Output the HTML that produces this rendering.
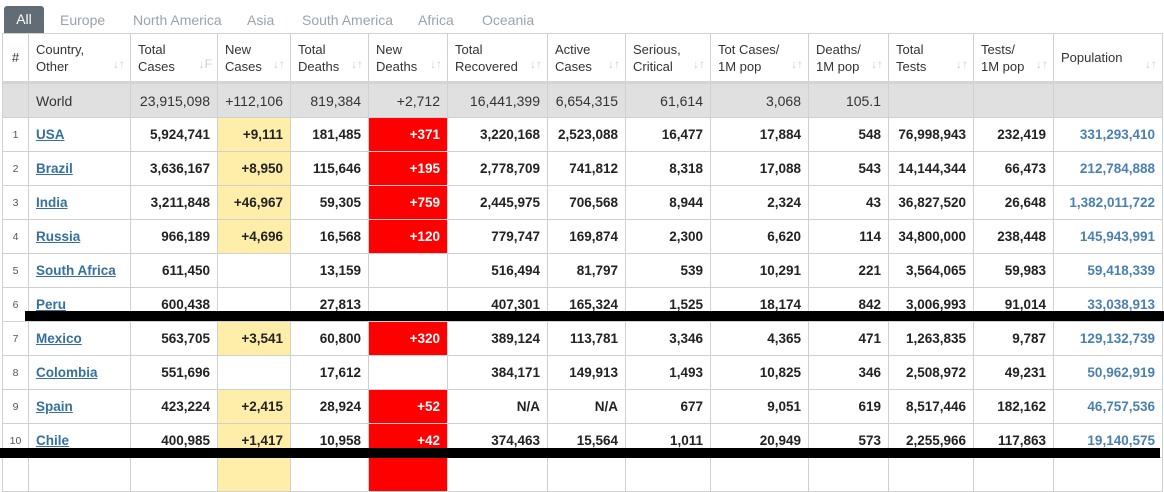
<!DOCTYPE html>
<html><head><style>
body{margin:0;width:1164px;height:461px;overflow:hidden;background:#fff;font-family:"Liberation Sans",Arial,sans-serif;position:relative}
.tabs{position:absolute;left:4px;top:6px;height:27px;font-size:14px;color:#9aa3ab}
.tabs span{position:absolute;top:6px;white-space:nowrap}
.tabs .all{background:#626c75;color:#fff;top:0;left:0;width:40px;height:27px;line-height:27px;text-align:center;border-radius:3px 3px 0 0}
table{position:absolute;left:2px;top:33px;border-collapse:collapse;table-layout:fixed;font-size:13.5px}
td,th{border:1px solid #d0d0d0;padding:0 7px;white-space:nowrap;overflow:hidden}
th{height:47px;font-weight:normal;color:#333;text-align:left;font-size:13px;line-height:17px;position:relative;border-bottom:3px solid #d4d4d4}
th i{position:absolute;right:5px;bottom:8px;font-style:normal;color:#ccc;font-size:12px}
td{height:33px;text-align:right;font-weight:bold;color:#222}
tr.w td{background:#e0e0e0;font-weight:normal;color:#333;font-size:14px}
td.n{text-align:center;font-weight:normal;font-size:10.5px;color:#555;padding:0}
td.c{text-align:left}
td.c a{color:#35709f;text-decoration:underline}
td.y{background:#ffeeaa}
td.r{background:#ff0000;color:#fff}
td.p{color:#4a80b0}
.bar{position:absolute;background:#000;height:10px}
</style></head><body>
<div class="tabs"><span class="all">All</span><span style="left:56px">Europe</span><span style="left:129px">North America</span><span style="left:243px">Asia</span><span style="left:298px">South America</span><span style="left:414px">Africa</span><span style="left:478px">Oceania</span></div>
<table>
<colgroup><col style="width:26px"><col style="width:102px"><col style="width:87px"><col style="width:73px"><col style="width:78px"><col style="width:79px"><col style="width:100px"><col style="width:78px"><col style="width:85px"><col style="width:98px"><col style="width:80px"><col style="width:85px"><col style="width:80px"><col style="width:109px"></colgroup>
<tr><th style="text-align:center;padding:0">#</th><th>Country,<br>Other<i>↓↑</i></th><th>Total<br>Cases<i>↓F</i></th><th>New<br>Cases<i>↓↑</i></th><th>Total<br>Deaths<i>↓↑</i></th><th>New<br>Deaths<i>↓↑</i></th><th>Total<br>Recovered<i>↓↑</i></th><th>Active<br>Cases<i>↓↑</i></th><th>Serious,<br>Critical<i>↓↑</i></th><th>Tot Cases/<br>1M pop<i>↓↑</i></th><th>Deaths/<br>1M pop<i>↓↑</i></th><th>Total<br>Tests<i>↓↑</i></th><th>Tests/<br>1M pop<i>↓↑</i></th><th>Population<i>↓↑</i></th></tr>
<tr class="w"><td class="n"></td><td class="c">World</td><td>23,915,098</td><td>+112,106</td><td>819,384</td><td>+2,712</td><td>16,441,399</td><td>6,654,315</td><td>61,614</td><td>3,068</td><td>105.1</td><td></td><td></td><td></td></tr>
<tr><td class="n">1</td><td class="c"><a>USA</a></td><td>5,924,741</td><td class="y">+9,111</td><td>181,485</td><td class="r">+371</td><td>3,220,168</td><td>2,523,088</td><td>16,477</td><td>17,884</td><td>548</td><td>76,998,943</td><td>232,419</td><td class="p">331,293,410</td></tr>
<tr><td class="n">2</td><td class="c"><a>Brazil</a></td><td>3,636,167</td><td class="y">+8,950</td><td>115,646</td><td class="r">+195</td><td>2,778,709</td><td>741,812</td><td>8,318</td><td>17,088</td><td>543</td><td>14,144,344</td><td>66,473</td><td class="p">212,784,888</td></tr>
<tr><td class="n">3</td><td class="c"><a>India</a></td><td>3,211,848</td><td class="y">+46,967</td><td>59,305</td><td class="r">+759</td><td>2,445,975</td><td>706,568</td><td>8,944</td><td>2,324</td><td>43</td><td>36,827,520</td><td>26,648</td><td class="p">1,382,011,722</td></tr>
<tr><td class="n">4</td><td class="c"><a>Russia</a></td><td>966,189</td><td class="y">+4,696</td><td>16,568</td><td class="r">+120</td><td>779,747</td><td>169,874</td><td>2,300</td><td>6,620</td><td>114</td><td>34,800,000</td><td>238,448</td><td class="p">145,943,991</td></tr>
<tr><td class="n">5</td><td class="c"><a>South Africa</a></td><td>611,450</td><td></td><td>13,159</td><td></td><td>516,494</td><td>81,797</td><td>539</td><td>10,291</td><td>221</td><td>3,564,065</td><td>59,983</td><td class="p">59,418,339</td></tr>
<tr><td class="n">6</td><td class="c"><a>Peru</a></td><td>600,438</td><td></td><td>27,813</td><td></td><td>407,301</td><td>165,324</td><td>1,525</td><td>18,174</td><td>842</td><td>3,006,993</td><td>91,014</td><td class="p">33,038,913</td></tr>
<tr><td class="n">7</td><td class="c"><a>Mexico</a></td><td>563,705</td><td class="y">+3,541</td><td>60,800</td><td class="r">+320</td><td>389,124</td><td>113,781</td><td>3,346</td><td>4,365</td><td>471</td><td>1,263,835</td><td>9,787</td><td class="p">129,132,739</td></tr>
<tr><td class="n">8</td><td class="c"><a>Colombia</a></td><td>551,696</td><td></td><td>17,612</td><td></td><td>384,171</td><td>149,913</td><td>1,493</td><td>10,825</td><td>346</td><td>2,508,972</td><td>49,231</td><td class="p">50,962,919</td></tr>
<tr><td class="n">9</td><td class="c"><a>Spain</a></td><td>423,224</td><td class="y">+2,415</td><td>28,924</td><td class="r">+52</td><td>N/A</td><td>N/A</td><td>677</td><td>9,051</td><td>619</td><td>8,517,446</td><td>182,162</td><td class="p">46,757,536</td></tr>
<tr><td class="n">10</td><td class="c"><a>Chile</a></td><td>400,985</td><td class="y">+1,417</td><td>10,958</td><td class="r">+42</td><td>374,463</td><td>15,564</td><td>1,011</td><td>20,949</td><td>573</td><td>2,255,966</td><td>117,863</td><td class="p">19,140,575</td></tr>
<tr><td class="n"></td><td></td><td></td><td class="y"></td><td></td><td class="r"></td><td></td><td></td><td></td><td></td><td></td><td></td><td></td><td></td></tr>
</table>
<div class="bar" style="left:25px;top:311px;width:1139px"></div>
<div class="bar" style="left:0;top:448px;width:1160px"></div>
</body></html>
